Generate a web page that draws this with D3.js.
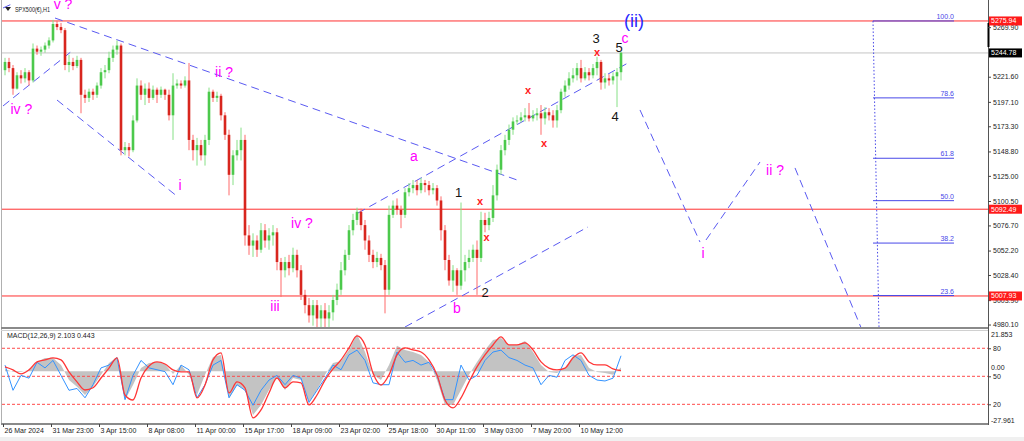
<!DOCTYPE html>
<html><head><meta charset="utf-8">
<script src="https://cdn.jsdelivr.net/npm/d3@7"></script>
<style>body{margin:0;background:#fff}svg{display:block}text{font-family:"Liberation Sans",Arial,sans-serif}</style>
</head><body><svg id="c" width="1024" height="441"></svg>
<script>
// ---------- DATA ----------
const candles = [ // [open, high, low, close], H1 bars (sampled)
[5228,5240,5223,5236],[5236,5240,5226,5230],[5230,5233,5204,5210],[5210,5226,5209,5223],[5223,5228,5215,5220],
[5220,5230,5216,5226],[5226,5228,5213,5218],[5218,5254,5216,5249],[5249,5252,5243,5246],[5246,5251,5242,5248],
[5248,5255,5245,5252],[5252,5260,5249,5257],[5257,5277,5255,5273],[5273,5276,5267,5270],[5270,5274,5264,5267],
[5267,5269,5228,5233],[5233,5243,5226,5236],[5236,5240,5228,5232],[5232,5242,5230,5238],[5238,5240,5186,5204],
[5204,5209,5196,5201],[5201,5210,5197,5207],[5207,5210,5199,5204],[5204,5216,5201,5213],[5213,5230,5210,5226],
[5226,5233,5220,5228],[5228,5246,5225,5240],[5240,5252,5236,5248],[5248,5257,5243,5252],[5252,5254,5145,5150],
[5150,5158,5145,5153],[5153,5157,5144,5150],[5150,5184,5148,5179],[5179,5220,5177,5213],[5213,5218,5199,5204],
[5204,5215,5194,5210],[5210,5216,5196,5201],[5201,5213,5199,5209],[5209,5211,5196,5204],[5204,5212,5201,5209],
[5209,5210,5199,5204],[5204,5209,5179,5184],[5184,5225,5160,5213],[5213,5219,5210,5215],[5215,5218,5210,5213],
[5213,5222,5211,5218],[5218,5235,5150,5160],[5160,5165,5140,5150],[5150,5162,5135,5155],[5155,5160,5140,5145],
[5145,5165,5135,5160],[5160,5211,5155,5207],[5207,5209,5197,5201],[5201,5207,5197,5203],[5203,5205,5179,5184],
[5184,5187,5160,5165],[5165,5170,5106,5126],[5126,5150,5116,5145],[5145,5160,5140,5150],[5150,5172,5140,5160],
[5160,5165,5057,5067],[5067,5077,5048,5057],[5057,5069,5046,5062],[5062,5067,5046,5053],[5053,5079,5050,5072],
[5072,5078,5055,5062],[5062,5074,5053,5067],[5067,5077,5057,5070],[5070,5074,5033,5041],[5041,5045,5007,5033],
[5033,5046,5026,5041],[5041,5048,5028,5035],[5035,5055,5031,5048],[5048,5053,5026,5033],[5033,5038,5004,5009],
[5009,5014,4991,4999],[4999,5006,4982,4989],[4989,5004,4979,4999],[4999,5004,4977,4986],[4986,4999,4977,4994],
[4994,5001,4977,4986],[4986,4999,4977,4992],[4992,5009,4984,5004],[5004,5020,4999,5014],[5014,5041,5009,5033],
[5033,5053,5028,5048],[5048,5077,5043,5072],[5072,5088,5067,5082],[5082,5094,5077,5090],[5090,5093,5072,5077],
[5077,5082,5053,5062],[5062,5067,5041,5048],[5048,5053,5035,5041],[5041,5051,5036,5045],[5045,5049,5033,5038],
[5038,5043,4991,5014],[5014,5096,5009,5087],[5087,5101,5084,5096],[5096,5103,5087,5092],[5092,5096,5074,5087],
[5087,5113,5084,5109],[5109,5118,5105,5113],[5113,5121,5108,5116],[5116,5121,5106,5111],[5111,5123,5108,5118],
[5118,5121,5109,5116],[5116,5120,5106,5111],[5111,5118,5107,5113],[5113,5116,5096,5101],[5101,5105,5062,5072],
[5072,5077,5033,5043],[5043,5048,5018,5023],[5023,5038,5012,5033],[5033,5035,5009,5018],[5018,5099,5014,5033],
[5033,5048,5022,5041],[5041,5053,5035,5045],[5045,5058,5041,5053],[5053,5062,5009,5045],[5045,5090,5041,5082],
[5082,5089,5070,5077],[5077,5090,5072,5084],[5084,5116,5080,5106],[5106,5136,5101,5131],[5131,5155,5126,5150],
[5150,5165,5145,5160],[5160,5175,5155,5170],[5170,5182,5165,5178],[5178,5184,5175,5179],[5179,5187,5177,5182],
[5182,5191,5178,5184],[5184,5196,5178,5181],[5181,5189,5178,5184],[5184,5191,5179,5186],[5186,5194,5165,5181],
[5181,5192,5175,5187],[5187,5191,5179,5184],[5184,5189,5172,5179],[5179,5194,5172,5189],[5189,5210,5186,5207],
[5207,5218,5202,5213],[5213,5226,5209,5220],[5220,5230,5216,5223],[5223,5235,5218,5230],[5230,5238,5216,5220],
[5220,5231,5218,5226],[5226,5230,5218,5223],[5223,5234,5220,5230],[5230,5241,5223,5236],[5236,5238,5209,5216],
[5216,5225,5210,5220],[5220,5224,5213,5218],[5218,5226,5214,5222],[5222,5230,5192,5226],[5226,5246,5218,5245]
];
// MACD panel series, one value every 2 bars
const macdMain = [1.3,-0.3,-0.3,0.8,5.1,7.3,7.3,3.5,-4.7,-8.4,-12.8,-8.4,-1.9,4.5,7.8,-15.5,-7.4,1.8,4.5,5.1,4.0,-1.4,3.5,-1.9,-12.8,-1.9,7.8,8.9,-14.4,-7.4,-10.1,-23.6,-18.2,-10.1,-3.0,-10.1,-3.6,-4.7,-16.6,-10.1,-1.9,4.5,5.6,11.6,20.2,10.5,-1.9,-4.7,3.5,13.8,11.6,10.5,8.9,5.1,-4.7,-18.2,-18.2,-10.1,-1.9,5.1,11.6,17.0,18.1,14.3,14.3,16.5,10.5,3.5,-0.3,-0.9,1.8,8.3,8.9,1.8,-0.3,-0.9,-1.9,2.1];
const macdSignal = [2.4,0.8,-1.4,0.8,5.1,6.2,7.3,6.2,-0.3,-5.7,-10.1,-8.9,-3.6,1.8,7.3,-12.8,-15.5,-3.6,2.9,5.1,4.0,0.8,-0.3,-0.3,-14.4,-7.4,6.2,10.0,-11.7,-5.7,-8.9,-25.2,-20.9,-11.7,-3.6,-8.9,-5.7,-6.3,-18.2,-12.8,-4.7,1.3,6.2,12.7,19.2,14.3,-0.9,-7.4,-1.9,8.9,12.7,11.6,10.5,6.2,-1.9,-15.5,-19.8,-14.4,-5.7,2.4,8.9,14.3,18.7,14.3,14.3,15.4,11.6,5.1,1.8,0.8,1.8,7.3,10.0,5.1,3.5,3.5,1.3,0.4];
const oscLine = [62,35,51,48,65,59,67,51,35,37,27,41,59,62,70,25,51,67,59,57,55,41,62,57,27,41,62,67,27,41,35,19,35,46,51,41,51,48,22,35,48,62,57,73,78,67,43,41,41,76,65,67,62,65,51,25,25,62,46,51,67,76,78,70,67,62,59,41,51,49,67,73,67,51,46,45,48,72];
const oscLevels = [80, 50, 20];

const timeLabels = ["26 Mar 2024","31 Mar 23:00","3 Apr 15:00","8 Apr 08:00","11 Apr 00:00","15 Apr 17:00","18 Apr 09:00","23 Apr 02:00","25 Apr 18:00","30 Apr 11:00","3 May 03:00","7 May 20:00","10 May 12:00"];
const timeLabelBars = [0,12,24,36,48,60,72,84,96,108,120,132,144];
const priceTicks = [5269.90,5221.60,5197.10,5173.30,5148.80,5125.00,5100.50,5076.70,5052.20,5028.40,5003.90,4980.10];
const redLevels = [5275.94, 5092.49, 5007.93];
const bidPrice = 5244.78;
const macdMax = 21.853, macdMin = -27.961;

const fibHigh = 5275.94, fibLow = 4925.7;
const fibLevels = [100.0, 78.6, 61.8, 50.0, 38.2, 23.6];
const fibSpan = [217.5, 237.75];

const trendLines = [
 [[13,5278.8],[128.5,5121.0]],
 [[13.5,5198.9],[43.75,5104.4]],
 [[0,5193.1],[17.25,5246.7]],
 [[0,5288.6],[2.75,5293.4]],
 [[88.75,5088.8],[156.25,5235.0]],
 [[100.5,4977.7],[146.25,5075.2]]
];
const projection = [
 [[159.25,5189.2],[174.25,5060.5]],
 [[175.75,5062.5],[189.25,5138.5]],
 [[198,5132.7],[214.75,4974.8]]
];
const fibVertical = [[217.5,5275.94],[219,4977.7]];

const magentaLabels = [
 ["v ?",15,5292.5],["iv ?",4.6,5190.2],["ii ?",55.25,5226.2],["i",44.25,5116.1],["iii",68,4998.2],
 ["iv ?",74.75,5079.1],["a",102.75,5144.4],["b",113.5,4996.2],["i",175,5049.8],["ii ?",193,5130.7],["c",155.5,5259.3]
];
const blueLabels = [["(ii)",157.75,5276.2]];
const countLabels = [["1",113.9,5108.3],["2",120.5,5011.8],["3",148.25,5259.3],["4",153,5182.4],["5",154,5249.6]];
const xMarks = [[119.25,5100.5],[120.9,5065.7],[131.25,5208.7],[135.25,5157.0],[148.5,5245.7]];

// ---------- SCALES ----------
const svg = d3.select("#c");
const x = d3.scaleLinear().domain([0,246.25]).range([3,988]);
const y = d3.scaleLinear().domain([4977.7,5291.5]).range([327,5]);
const my = d3.scaleLinear().domain([macdMin, macdMax]).range([423,331]);
const oy = d3.scaleLinear().domain([0,100]).range([423,329.6]);

const defs = svg.append("defs");
defs.append("clipPath").attr("id","cm").append("rect").attr("x",2).attr("y",0).attr("width",986).attr("height",327);
defs.append("clipPath").attr("id","cd").append("rect").attr("x",2).attr("y",331).attr("width",986).attr("height",92);

svg.append("rect").attr("x",0).attr("y",437).attr("width",1024).attr("height",4).attr("fill","#f0f0f0");

const main = svg.append("g").attr("clip-path","url(#cm)");
const line = d3.line().x(d=>x(d[0])).y(d=>y(d[1]));

// horizontal levels
main.append("line").attr("x1",2).attr("x2",988).attr("y1",y(bidPrice)).attr("y2",y(bidPrice)).attr("stroke","#c4c4c4");
main.selectAll(".lvl").data(redLevels).join("line").attr("x1",2).attr("x2",988)
  .attr("y1",d=>y(d)).attr("y2",d=>y(d)).attr("stroke","#ff3030");

// fib
const fibP = l => fibLow + (fibHigh-fibLow)*l/100;
main.append("path").attr("d",line(fibVertical)).attr("stroke","#4848e8").attr("stroke-dasharray","1.5,2").attr("fill","none");
main.selectAll(".fib").data(fibLevels).join("line").attr("x1",x(fibSpan[0])).attr("x2",x(fibSpan[1]))
  .attr("y1",d=>y(fibP(d))).attr("y2",d=>y(fibP(d))).attr("stroke","#4848e8");
main.selectAll(".fibt").data(fibLevels).join("text").attr("x",x(fibSpan[1])).attr("y",d=>y(fibP(d))-2)
  .attr("text-anchor","end").attr("font-size",7).attr("fill","#4848e8").text(d=>d.toFixed(1));

// trend lines
main.selectAll(".tl").data(trendLines.concat(projection)).join("path").attr("d",d=>line(d))
  .attr("stroke","#5a5af2").attr("stroke-width",1).attr("stroke-dasharray","8,5").attr("fill","none");

// candles
const cg = main.append("g");
candles.forEach((c,i)=>{
  const cx = x(i+0.5), up = c[3]>=c[0];
  cg.append("line").attr("x1",cx).attr("x2",cx).attr("y1",y(c[1])).attr("y2",y(c[2]))
    .attr("stroke", up?"#86e086":"#ff6a6a").attr("stroke-width",1);
  const top = y(Math.max(c[0],c[3])), bot = y(Math.min(c[0],c[3]));
  cg.append("rect").attr("x",cx-1.3).attr("width",2.6).attr("y",top).attr("height",Math.max(1,bot-top))
    .attr("fill", up?"#4cc94c":"#d8261e");
});

// labels
const lab = (arr, size, color) => main.selectAll(null).data(arr).join("text")
  .attr("x",d=>x(d[1])).attr("y",d=>y(d[2]))
  .attr("text-anchor","middle").attr("dominant-baseline","central")
  .attr("font-size",size).attr("fill",color).text(d=>d[0]);
lab(magentaLabels,14,"#ff00ff");
lab(blueLabels,18,"#2a2aff");
lab(countLabels,13,"#151515");
main.selectAll(".xm").data(xMarks).join("text").attr("x",d=>x(d[0])).attr("y",d=>y(d[1]))
  .attr("text-anchor","middle").attr("dominant-baseline","central").attr("font-size",11).attr("font-weight","bold")
  .attr("fill","#ff2020").text("x");

// title
svg.append("path").attr("d","M5,7 L11,7 L8,11 Z").attr("fill","#222");
svg.append("text").attr("x",15).attr("y",12).attr("font-size",6.5).attr("textLength",35).attr("lengthAdjust","spacingAndGlyphs")
  .attr("fill","#222").text("SPX500(€),H1");

// ---------- MACD PANEL ----------
const ind = svg.append("g").attr("clip-path","url(#cd)");
const bx = k => x(2*k+0.5);
ind.append("path").datum(macdMain).attr("d",d3.area().x((d,k)=>bx(k)).y0(my(0)).y1(d=>my(d)))
  .attr("fill","#c3c3c3");
ind.selectAll(".ol").data(oscLevels).join("line").attr("x1",2).attr("x2",988).attr("y1",d=>oy(d)).attr("y2",d=>oy(d))
  .attr("stroke","#ff4a4a").attr("stroke-dasharray","3,2");
ind.append("path").datum(oscLine).attr("d",d3.line().x((d,k)=>bx(k)).y(d=>oy(d)))
  .attr("fill","none").attr("stroke","#3393ff").attr("stroke-width",1);
ind.append("path").datum(macdSignal).attr("d",d3.line().curve(d3.curveMonotoneX).x((d,k)=>bx(k)).y(d=>my(d)))
  .attr("fill","none").attr("stroke","#ff3636").attr("stroke-width",1.3);
svg.append("text").attr("x",7).attr("y",338).attr("font-size",7).attr("fill","#222")
  .text("MACD(12,26,9) 2.103 0.443");

// ---------- FRAME ----------
svg.append("line").attr("x1",1.5).attr("x2",1.5).attr("y1",0).attr("y2",424).attr("stroke","#b0b0b0");
svg.append("line").attr("x1",1).attr("x2",989).attr("y1",328).attr("y2",328).attr("stroke","#8a8a8a").attr("stroke-width",2);
svg.append("line").attr("x1",1).attr("x2",989).attr("y1",330.5).attr("y2",330.5).attr("stroke","#d0d0d0").attr("stroke-width",1);
svg.append("line").attr("x1",1).attr("x2",989).attr("y1",424).attr("y2",424).attr("stroke","#8a8a8a").attr("stroke-width",2);
svg.append("line").attr("x1",988.5).attr("x2",988.5).attr("y1",0).attr("y2",425).attr("stroke","#555");
svg.append("line").attr("x1",988.5).attr("x2",988.5).attr("y1",23).attr("y2",47).attr("stroke","#000").attr("stroke-width",2);

// ---------- AXES ----------
const styleAxis = g => { g.attr("font-family","Liberation Sans, Arial, sans-serif").attr("font-size",7);
  g.select(".domain").remove(); g.selectAll("line").attr("stroke","#444"); g.selectAll("text").attr("fill","#222"); };
svg.append("g").attr("transform","translate(988,0)")
  .call(d3.axisRight(y).tickValues(priceTicks).tickSize(3).tickPadding(2).tickFormat(d3.format(".2f"))).call(styleAxis);
svg.append("g").attr("transform","translate(988,0)")
  .call(d3.axisRight(oy).tickValues(oscLevels).tickSize(3).tickPadding(2)).call(styleAxis);
svg.append("g").attr("transform","translate(988,0)")
  .call(d3.axisRight(my).tickValues([0]).tickSize(0).tickPadding(3).tickFormat(d3.format(".2f"))).call(styleAxis)
  .call(g=>g.selectAll("text").attr("dy","-0.2em"));
[[macdMax,3.5],[macdMin,-3]].forEach(v=>{
  svg.append("text").attr("x",991).attr("y",my(v[0])+v[1]).attr("dominant-baseline","central")
    .attr("font-size",7).attr("fill","#222").text(v[0].toFixed(3));
});
svg.append("g").attr("transform","translate(0,424)")
  .call(d3.axisBottom(x).tickValues(timeLabelBars).tickSize(3).tickPadding(1).tickFormat((d,i)=>timeLabels[i]))
  .call(styleAxis).call(g=>g.selectAll("text").attr("text-anchor","start").attr("dx","1"));

// right price boxes
const box = (p,fill)=>{
  const yy = y(p);
  svg.append("rect").attr("x",989).attr("y",yy-4.5).attr("width",33).attr("height",9).attr("fill",fill);
  svg.append("text").attr("x",991).attr("y",yy).attr("dominant-baseline","central").attr("font-size",7)
    .attr("fill","#fff").text(p.toFixed(2));
};
redLevels.forEach(p=>box(p,"#ff1a1a"));
box(bidPrice,"#000");
</script></body></html>
